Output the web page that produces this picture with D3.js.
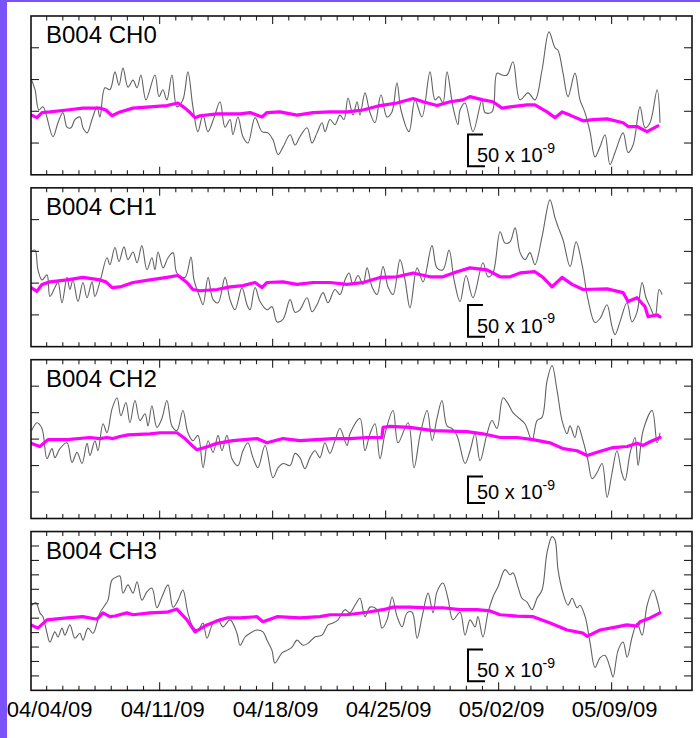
<!DOCTYPE html>
<html><head><meta charset="utf-8">
<script src="https://cdn.jsdelivr.net/npm/d3@7"></script>
<style>body{margin:0;background:#fff;} svg{display:block;font-family:"Liberation Sans",Arial,Helvetica,sans-serif;}</style>
</head><body><svg id="c" width="700" height="738"></svg>
<script>
// ---------------- data ----------------
const panelTitles = ["B004 CH0", "B004 CH1", "B004 CH2", "B004 CH3"];
// days since 04/04/09 00:00
const xDomain = [-0.97, 39.98];
const xTickDays = [0, 7, 14, 21, 28, 35];
const xTickLabels = ["04/04/09", "04/11/09", "04/18/09", "04/25/09", "05/02/09", "05/09/09"];
const majorTickDays = [7, 14, 21, 28, 35];
// strain in units of 1e-9
const yRanges = [250, 250, 300, 250];
const yTickIntervals = [5, 5, 6, 11];
const scaleBarValue = 50;
const scaleBarText = "50 x 10";
const scaleBarExp = "-9";

const ch0Gray = [[-0.93,24],[-0.72,9],[-0.48,-23],[-0.23,-18],[0.39,-65],[0.70,-43],[1.01,-27],[1.26,-50],[1.51,-51],[1.75,-38],[2.06,-34],[2.25,-51],[2.50,-59],[2.81,-38],[3.12,-18],[3.30,-34],[3.61,12],[3.92,9],[4.23,37],[4.48,16],[4.73,43],[5.04,13],[5.35,24],[5.60,12],[5.84,32],[6.15,-7],[6.71,32],[6.96,-2],[7.20,9],[7.45,-7],[7.76,32],[8.07,-18],[8.44,-7],[8.75,37],[9.06,-18],[9.37,-57],[9.68,-31],[9.99,-57],[10.37,-35],[10.74,-10],[11.05,-50],[11.36,-38],[11.54,-62],[11.85,-34],[12.16,-65],[12.47,-75],[12.91,-35],[13.34,-57],[13.71,-59],[14.02,-70],[14.34,-93],[14.65,-81],[15.08,-62],[15.39,-78],[15.69,-65],[16.13,-51],[16.44,-75],[16.75,-59],[17.06,-43],[17.25,-57],[17.55,-38],[17.86,-46],[18.17,-31],[18.42,-38],[18.67,-4],[18.98,-31],[19.23,-10],[19.41,-31],[19.72,4],[20.03,-27],[20.34,-43],[20.71,1],[21.08,-34],[21.39,-26],[21.70,20],[21.95,-23],[22.45,-57],[22.82,-7],[23.25,-34],[23.75,37],[24.06,-7],[24.31,-2],[24.55,-12],[24.80,37],[25.17,-18],[25.48,-46],[25.61,-23],[25.92,-12],[26.41,-57],[26.97,-7],[27.16,-27],[27.59,-26],[27.90,35],[28.21,32],[28.52,32],[28.89,53],[29.32,-7],[29.82,4],[30.25,-7],[30.69,40],[31.12,100],[31.49,75],[31.68,71],[31.99,35],[32.30,-2],[32.73,35],[33.04,-7],[33.35,-27],[33.66,-57],[33.97,-97],[34.28,-81],[34.59,-62],[34.90,-109],[35.21,-90],[35.71,-59],[36.02,-90],[36.33,-78],[36.76,-18],[37.07,-51],[37.38,-43],[37.82,9],[38.00,-43]];
const ch0Mag = [[-0.97,-31],[-0.60,-35],[-0.29,-27],[0.20,-26],[1.26,-23],[2.25,-20],[3.30,-20],[3.67,-23],[4.05,-32],[4.54,-26],[5.35,-20],[6.40,-18],[7.45,-16],[8.13,-12],[8.57,-20],[8.88,-27],[9.19,-35],[9.50,-32],[10.55,-29],[11.98,-29],[12.60,-27],[13.34,-34],[13.65,-27],[14.45,-26],[15.51,-31],[16.50,-27],[17.55,-26],[18.61,-26],[19.60,-23],[20.65,-16],[21.70,-12],[22.70,-5],[23.32,-10],[24.18,-16],[24.99,-10],[25.79,-7],[26.22,-2],[27.03,-7],[27.65,-10],[28.21,-20],[28.71,-18],[29.76,-15],[30.25,-15],[31.00,-26],[31.49,-35],[31.93,-26],[32.42,-31],[33.23,-40],[33.85,-38],[34.72,-37],[35.71,-43],[36.02,-49],[36.57,-49],[37.19,-57],[37.87,-48]];

const ch1Gray = [[-0.93,25],[-0.72,27],[-0.54,-4],[-0.29,-20],[0.02,-12],[0.20,-46],[0.51,-32],[0.70,-23],[0.95,-56],[1.26,-16],[1.44,-35],[1.63,-20],[1.94,-54],[2.25,-24],[2.50,-48],[2.81,-23],[2.99,-46],[3.30,-23],[3.74,15],[3.92,4],[4.23,31],[4.48,9],[4.79,32],[5.04,12],[5.35,24],[5.60,7],[5.90,34],[6.21,-4],[6.52,15],[6.71,-4],[6.90,24],[7.21,-1],[7.52,15],[7.83,23],[8.07,-9],[8.57,-16],[8.94,16],[9.13,-20],[9.50,-48],[9.69,-59],[10.00,-16],[10.31,-51],[10.62,-56],[11.05,-16],[11.36,-51],[11.67,-67],[12.10,-32],[12.41,-59],[12.60,-67],[12.91,-32],[13.22,-54],[13.65,-67],[13.96,-62],[14.27,-86],[14.64,-82],[15.08,-51],[15.39,-71],[15.69,-67],[16.13,-48],[16.44,-70],[16.75,-59],[17.12,-40],[17.43,-56],[17.86,-35],[18.17,-43],[18.48,-20],[18.73,-9],[18.98,-27],[19.29,-13],[19.60,-27],[19.85,-1],[20.16,-31],[20.47,-43],[20.84,1],[21.15,-31],[21.46,-43],[21.89,12],[22.20,-20],[22.51,-64],[22.95,-1],[23.32,-23],[23.87,34],[24.18,-1],[24.55,-4],[24.93,27],[25.24,-20],[25.61,-54],[25.98,-13],[26.41,-48],[27.03,7],[27.34,-15],[27.65,-9],[28.09,56],[28.40,38],[28.71,40],[29.02,62],[29.33,23],[29.64,12],[29.94,23],[30.25,4],[30.69,48],[31.18,106],[31.49,78],[31.68,64],[31.99,43],[32.43,1],[32.80,40],[33.17,4],[33.54,-51],[33.97,-87],[34.30,-80],[34.71,-59],[35.02,-93],[35.21,-106],[35.52,-86],[35.95,-56],[36.26,-86],[36.57,-71],[36.89,-24],[37.13,-48],[37.38,-62],[37.69,-78],[37.94,-35],[38.13,-43]];
const ch1Mag = [[-0.97,-32],[-0.60,-38],[-0.29,-27],[0.20,-23],[1.26,-20],[2.25,-16],[3.30,-20],[3.67,-23],[4.05,-32],[4.54,-31],[5.35,-24],[6.40,-20],[7.45,-16],[8.13,-13],[8.69,-24],[9.06,-35],[9.50,-37],[10.55,-35],[11.36,-31],[12.16,-29],[12.91,-24],[13.34,-32],[13.65,-24],[14.64,-23],[15.51,-27],[16.50,-24],[17.55,-24],[18.61,-27],[19.60,-24],[20.65,-16],[21.70,-15],[22.70,-9],[23.75,-15],[24.55,-15],[25.42,-7],[26.22,-1],[27.28,-4],[28.09,-15],[28.71,-15],[29.33,-9],[30.25,-7],[30.75,-16],[31.31,-31],[31.93,-16],[32.55,-27],[33.23,-35],[34.72,-34],[35.71,-40],[36.02,-54],[36.57,-48],[37.07,-62],[37.26,-78],[37.82,-75],[38.00,-78]];

const ch2Gray = [[-0.93,16],[-0.60,31],[-0.29,20],[0.02,-37],[0.33,-18],[0.51,-35],[0.82,-18],[1.26,-7],[1.57,-44],[1.88,-25],[2.19,-46],[2.50,-8],[2.68,-31],[2.99,-3],[3.18,-22],[3.49,29],[3.74,12],[4.05,57],[4.36,78],[4.60,44],[4.91,69],[5.16,31],[5.47,73],[5.78,35],[6.09,48],[6.28,25],[6.52,63],[6.83,22],[7.14,39],[7.45,73],[7.76,25],[8.07,16],[8.44,54],[8.75,12],[9.06,-3],[9.37,7],[9.69,-54],[10.00,-3],[10.31,-25],[10.62,7],[10.86,-22],[11.17,7],[11.48,-37],[11.85,-50],[12.16,-22],[12.47,-7],[12.78,-35],[13.09,-54],[13.53,-12],[14.02,-73],[14.34,-54],[14.65,-46],[15.08,-50],[15.39,-27],[15.69,-35],[16.00,-56],[16.31,-35],[16.62,-22],[16.93,-35],[17.24,-7],[17.55,-27],[17.86,-3],[18.17,20],[18.61,-12],[18.79,10],[19.41,39],[19.72,-22],[20.03,10],[20.34,29],[20.65,-37],[20.96,10],[21.46,54],[21.77,-7],[22.39,31],[22.76,-54],[23.13,7],[23.57,54],[23.88,-3],[24.18,39],[24.49,73],[24.80,25],[25.11,20],[25.42,7],[25.92,-46],[26.23,-22],[26.54,10],[26.85,-41],[27.28,10],[27.59,35],[27.90,20],[28.27,78],[28.58,67],[28.89,50],[29.20,41],[29.63,29],[30.07,-3],[30.38,35],[30.69,41],[31.00,110],[31.31,139],[31.62,92],[31.93,35],[32.24,10],[32.42,25],[32.73,3],[32.92,25],[33.23,-3],[33.54,-41],[33.79,-75],[34.10,-63],[34.41,-46],[34.72,-110],[35.02,-65],[35.33,-22],[35.64,-65],[35.83,-78],[36.14,-27],[36.45,3],[36.64,-50],[36.95,16],[37.51,54],[37.82,-7],[38.00,12]];
const ch2Mag = [[-0.97,-8],[-0.42,-14],[0.08,-1],[1.26,-1],[2.68,3],[3.30,1],[3.74,3],[4.11,1],[4.54,5],[5.04,8],[6.40,10],[7.02,12],[8.07,12],[8.57,1],[9.00,-12],[9.31,-20],[10.00,-14],[10.55,-8],[11.54,-3],[13.03,1],[13.65,-7],[14.64,1],[15.69,-3],[17.74,1],[18.79,1],[19.84,3],[20.77,3],[20.84,22],[21.27,24],[22.51,22],[23.94,16],[26.04,14],[27.03,10],[28.09,3],[29.15,3],[30.13,-1],[31.18,-7],[31.99,-18],[32.86,-22],[33.48,-31],[34.10,-25],[35.09,-16],[35.96,-14],[36.57,-8],[36.95,-12],[37.38,-5],[38.00,3]];

const ch3Gray = [[-0.93,9],[-0.66,13],[-0.42,-3],[-0.23,-9],[0.02,-35],[0.20,-49],[0.51,-33],[0.70,-41],[0.95,-27],[1.13,-38],[1.44,-22],[1.75,-43],[2.06,-35],[2.25,-46],[2.56,-27],[2.87,-35],[3.12,-19],[3.30,-3],[3.61,9],[3.80,17],[4.05,49],[4.36,54],[4.54,55],[4.73,28],[5.04,41],[5.35,28],[5.60,46],[5.90,17],[6.21,30],[6.52,36],[6.83,5],[7.14,22],[7.52,41],[7.83,6],[8.14,17],[8.44,33],[8.75,-3],[9.06,-25],[9.37,-30],[9.68,-19],[9.93,-43],[10.31,-19],[10.62,-14],[10.92,-25],[11.36,-14],[11.79,-35],[11.98,-54],[12.29,-41],[12.60,-35],[13.03,-30],[13.40,-33],[13.65,-46],[13.96,-62],[14.14,-82],[14.58,-66],[14.89,-62],[15.20,-57],[15.51,-46],[15.88,-54],[16.19,-51],[16.62,-41],[17.06,-38],[17.43,-22],[17.74,-19],[18.05,-14],[18.48,2],[18.79,-3],[19.10,9],[19.41,20],[19.72,-9],[20.04,6],[20.47,2],[20.78,-27],[21.09,-14],[21.40,22],[21.71,-9],[22.02,-25],[22.33,-3],[22.64,-2],[22.95,-43],[23.26,-9],[23.63,28],[23.94,-3],[24.18,30],[24.55,44],[24.86,20],[25.17,-14],[25.61,-2],[25.92,-38],[26.23,-14],[26.54,-25],[26.72,-9],[27.03,-41],[27.34,-3],[27.65,22],[27.96,38],[28.40,65],[28.71,57],[28.89,60],[29.20,38],[29.45,20],[29.76,14],[30.07,2],[30.38,20],[30.69,33],[31.00,92],[31.31,117],[31.49,112],[31.68,65],[31.99,28],[32.30,9],[32.55,20],[32.86,5],[33.04,9],[33.36,-9],[33.67,-51],[33.97,-89],[34.28,-74],[34.59,-70],[34.90,-89],[35.09,-104],[35.40,-62],[35.71,-49],[35.96,-73],[36.27,-41],[36.58,-19],[36.89,-38],[37.20,9],[37.57,33],[37.82,17],[38.00,-3]];
const ch3Mag = [[-0.97,-22],[-0.54,-27],[0.02,-14],[1.26,-11],[2.25,-9],[3.12,-13],[3.49,-3],[3.92,-9],[4.23,-8],[4.97,-3],[5.35,-6],[6.40,-3],[7.45,-2],[8.07,3],[8.69,-14],[9.19,-33],[9.93,-22],[10.74,-14],[11.17,-11],[11.98,-11],[13.03,-9],[13.40,-17],[14.27,-9],[15.69,-11],[16.93,-9],[17.55,-6],[18.61,-6],[19.84,-2],[20.84,2],[21.46,6],[22.51,6],[23.57,5],[24.55,5],[25.61,2],[26.66,2],[27.47,0],[28.09,-6],[29.15,-8],[30.14,-9],[31.19,-19],[32.24,-30],[33.23,-35],[33.48,-40],[34.28,-30],[35.33,-25],[35.94,-22],[36.57,-24],[36.76,-17],[37.38,-11],[38.00,-3]];

const grayData = [ch0Gray, ch1Gray, ch2Gray, ch3Gray];
const magData = [ch0Mag, ch1Mag, ch2Mag, ch3Mag];

// ---------------- layout ----------------
const svg = d3.select("#c");
const W = 700, H = 738;
const left = 31, right = 692;
const panelTop0 = 16, panelStep = 171.85, panelH = 158.8;
const scaleBarX = 468;
const scaleBarBottomGap = [8.5, 10, 15.5, 9];

svg.append("rect").attr("width", W).attr("height", H).attr("fill", "#fff");
svg.append("rect").attr("x", 0).attr("y", 0).attr("width", 7).attr("height", H).attr("fill", "#7b52f7");
svg.append("rect").attr("x", 0).attr("y", 0).attr("width", W).attr("height", 2).attr("fill", "#7b52f7");

const xs = d3.scaleLinear().domain(xDomain).range([left, right]);
const dayTicks = d3.range(Math.ceil(xDomain[0]), Math.floor(xDomain[1]) + 1);

panelTitles.forEach((title, i) => {
  const top = panelTop0 + i * panelStep;
  const bot = top + panelH;
  const R = yRanges[i];
  const ys = d3.scaleLinear().domain([-R / 2, R / 2]).range([bot, top]);
  const g = svg.append("g");

  const clipId = "clip" + i;
  svg.append("clipPath").attr("id", clipId)
    .append("rect").attr("x", left).attr("y", top).attr("width", right - left).attr("height", panelH);

  const plot = g.append("g").attr("clip-path", `url(#${clipId})`);

  const grayLine = d3.line().x(d => xs(d[0])).y(d => ys(d[1])).curve(d3.curveCatmullRom.alpha(0.5));
  plot.append("path").datum(grayData[i]).attr("d", grayLine)
    .attr("fill", "none").attr("stroke", "#626262").attr("stroke-width", 1.1);

  const magLine = d3.line().x(d => xs(d[0])).y(d => ys(d[1]));
  plot.append("path").datum(magData[i]).attr("d", magLine)
    .attr("fill", "none").attr("stroke", "#ff00ff").attr("stroke-width", 3.2)
    .attr("stroke-linejoin", "round").attr("stroke-linecap", "round");

  // x ticks (top and bottom, inward)
  dayTicks.forEach(d => {
    const x = xs(d);
    if (x <= left + 1 || x >= right - 1) return;
    const len = majorTickDays.includes(d) ? 8 : 4.5;
    g.append("line").attr("x1", x).attr("x2", x).attr("y1", bot).attr("y2", bot - len)
      .attr("stroke", "#222").attr("stroke-width", 1.1);
    g.append("line").attr("x1", x).attr("x2", x).attr("y1", top).attr("y2", top + len)
      .attr("stroke", "#222").attr("stroke-width", 1.1);
  });
  // y ticks (left and right, inward)
  const n = yTickIntervals[i];
  d3.range(1, n).map(k => -R / 2 + k * R / n).forEach(v => {
    const y = ys(v);
    g.append("line").attr("x1", left).attr("x2", left + 8).attr("y1", y).attr("y2", y)
      .attr("stroke", "#222").attr("stroke-width", 1.1);
    g.append("line").attr("x1", right - 8).attr("x2", right).attr("y1", y).attr("y2", y)
      .attr("stroke", "#222").attr("stroke-width", 1.1);
  });

  // frame
  g.append("rect").attr("x", left).attr("y", top).attr("width", right - left).attr("height", panelH)
    .attr("fill", "none").attr("stroke", "#111").attr("stroke-width", 1.6);

  // title
  g.append("text").attr("x", 46).attr("y", top + 27).attr("font-size", 24).attr("fill", "#000").text(title);

  // scale bar
  const yB = bot - scaleBarBottomGap[i];
  const hB = ys(0) - ys(scaleBarValue);
  const yT = yB - hB;
  g.append("path").attr("d", `M${scaleBarX + 15},${yT}H${scaleBarX}V${yB}H${scaleBarX + 17}`)
    .attr("fill", "none").attr("stroke", "#000").attr("stroke-width", 2);
  const t = g.append("text").attr("x", scaleBarX + 9).attr("y", yB - 4).attr("font-size", 20).attr("fill", "#000");
  t.append("tspan").text(scaleBarText);
  t.append("tspan").attr("dy", -9.5).attr("font-size", 14).text(scaleBarExp);
});

// x labels under last panel
xTickDays.forEach((d, k) => {
  svg.append("text").attr("x", xs(d) + 3).attr("y", 717).attr("text-anchor", "middle")
    .attr("font-size", 22).attr("fill", "#000").text(xTickLabels[k]);
});
</script>
</body></html>
